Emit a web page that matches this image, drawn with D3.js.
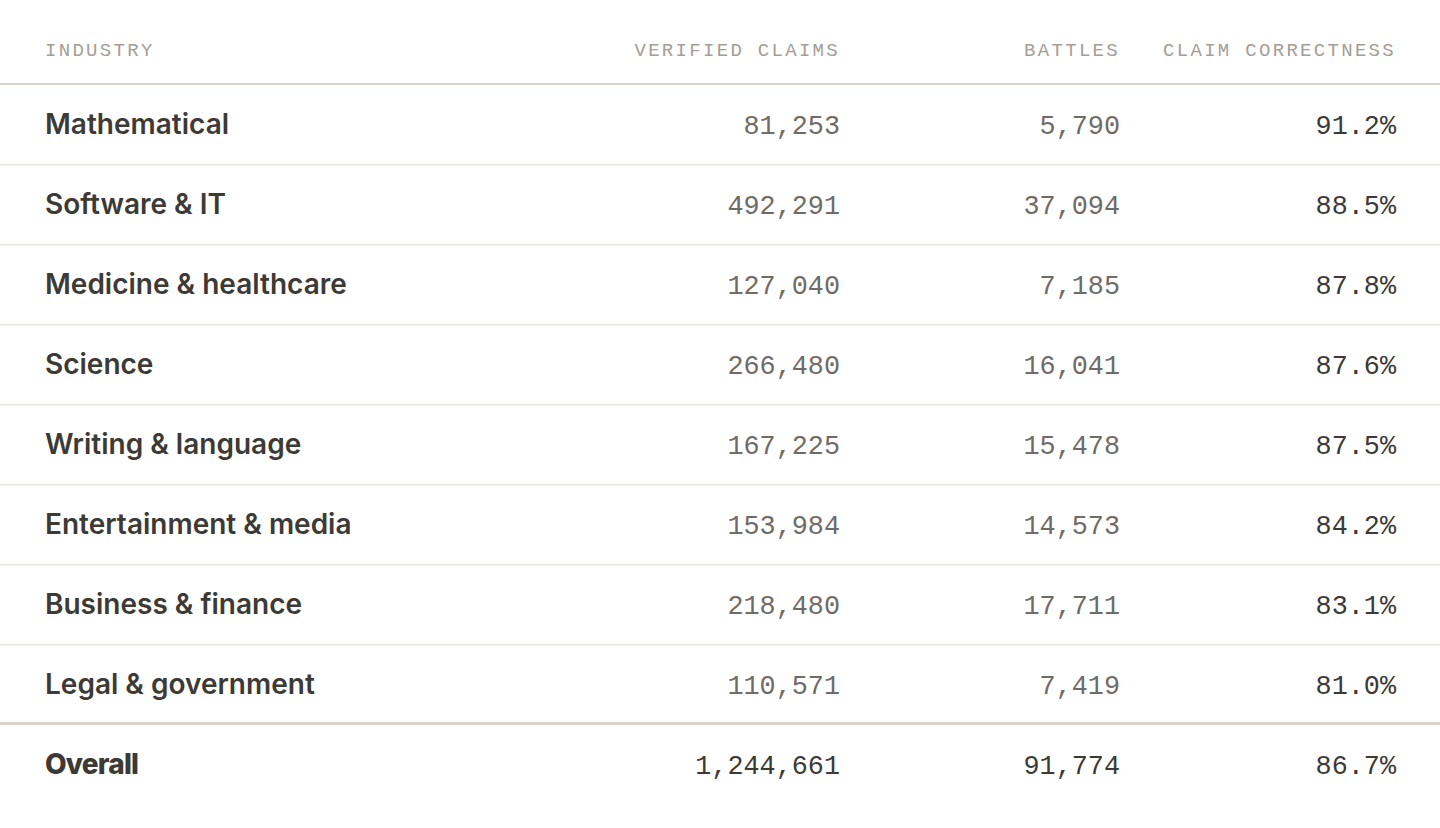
<!DOCTYPE html>
<html><head><meta charset="utf-8">
<script src="https://cdn.jsdelivr.net/npm/d3@7"></script>
<style>body{margin:0;background:#fff}</style>
</head><body>
<svg id="chart" width="1440" height="828"></svg>
<script>
const industries = ['Mathematical', 'Software & IT', 'Medicine & healthcare', 'Science',
  'Writing & language', 'Entertainment & media', 'Business & finance', 'Legal & government']
const verifiedClaims = [81253, 492291, 127040, 266480, 167225, 153984, 218480, 110571]
const battles = [5790, 37094, 7185, 16041, 15478, 14573, 17711, 7419]
const correctness = [91.2, 88.5, 87.8, 87.6, 87.5, 84.2, 83.1, 81.0]
const overall = {name: 'Overall', claims: 1244661, battles: 91774, correct: 86.7}
const headers = ['INDUSTRY', 'VERIFIED CLAIMS', 'BATTLES', 'CLAIM CORRECTNESS']

const svg = d3.select('#chart')
const mono = '"Liberation Mono", "DejaVu Sans Mono", monospace'
const sans = 'Inter, "Noto Sans", sans-serif'
const fmt = d3.format(',')

// rows 0..8 (8 = overall)
const y = d3.scaleLinear().domain([0, 1]).range([124, 204])
const colX = [45, 840, 1120, 1396]

// header
svg.selectAll('text.h').data(headers).join('text')
    .attr('x', (d, i) => colX[i])
    .attr('y', 56)
    .attr('text-anchor', (d, i) => i ? 'end' : 'start')
    .attr('font-family', mono).attr('font-size', 19).attr('letter-spacing', 2.3)
    .attr('fill', '#a39e96')
    .text(d => d)
svg.append('rect').attr('x', 0).attr('y', 83).attr('width', 1440).attr('height', 2).attr('fill', '#d9d3ca')

// separators
svg.selectAll('rect.sep').data(d3.range(1, 8)).join('rect')
    .attr('x', 0).attr('y', d => y(d) - 40).attr('width', 1440).attr('height', 1.5).attr('fill', '#e8e5e1')
svg.append('rect').attr('x', 0).attr('y', y(8) - 42).attr('width', 1440).attr('height', 3).attr('fill', '#d9d3ca')

const rows = industries.map((name, i) => ({name, claims: verifiedClaims[i], battles: battles[i], correct: correctness[i], last: false}))
rows.push({...overall, last: true})

const g = svg.selectAll('g.row').data(rows).join('g')
    .attr('transform', (d, i) => `translate(0,${y(i) + 9})`)

g.append('text').attr('x', colX[0]).attr('y', 1)
    .attr('font-family', sans).attr('font-size', 28)
    .attr('font-weight', d => d.last ? 800 : 600)
    .attr('letter-spacing', d => d.last ? -0.8 : 0)
    .attr('fill', '#3d3a36').text(d => d.name)
const num = (x, f, col) => g.append('text').attr('x', x).attr('y', 1).attr('text-anchor', 'end')
    .attr('font-family', mono).attr('font-size', 26.8)
    .attr('fill', d => d.last ? '#3d3a36' : col).text(f)
num(colX[1], d => fmt(d.claims), '#6f6b66')
num(colX[2], d => fmt(d.battles), '#6f6b66')
num(colX[3], d => d.correct.toFixed(1) + '%', '#3d3a36')
</script>
</body></html>
